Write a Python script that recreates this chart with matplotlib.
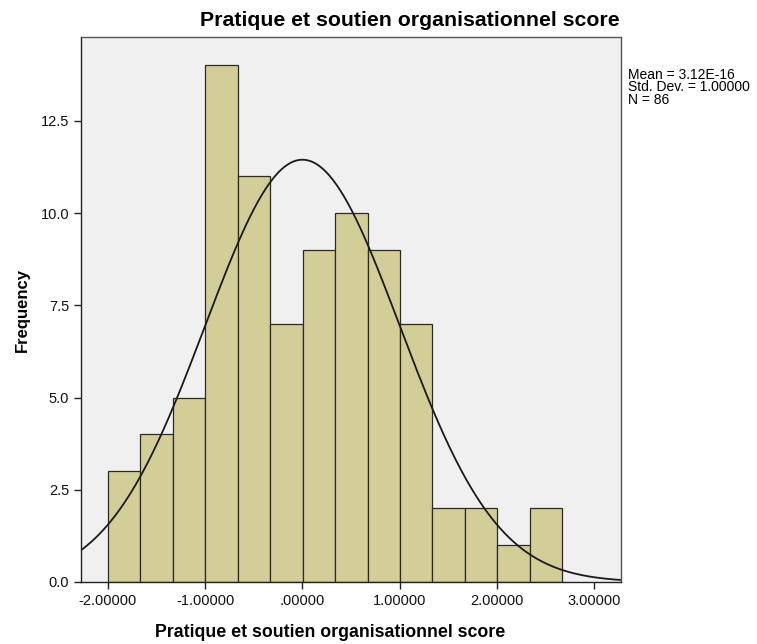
import numpy as np
import matplotlib
matplotlib.use("Agg")
import matplotlib.pyplot as plt

plt.rcParams['font.family'] = ['Liberation Sans', 'DejaVu Sans']

# histogram data
bin_start = -2.0
bin_width = 0.3336
counts = [3, 4, 5, 14, 11, 7, 9, 10, 9, 7, 2, 2, 1, 2]
mean = 0.0
std = 1.0
n = 86
x_ticks = [-2.0, -1.0, 0.0, 1.0, 2.0, 3.0]
x_tick_labels = ["-2.00000", "-1.00000", ".00000", "1.00000", "2.00000", "3.00000"]
y_ticks = [0.0, 2.5, 5.0, 7.5, 10.0, 12.5]
title = "Pratique et soutien organisationnel score"

edges = bin_start + bin_width * np.arange(len(counts) + 1)

fig = plt.figure(figsize=(7.57, 6.44), dpi=100)
ax = fig.add_axes([0.107, 0.0963, 0.713, 0.8462])
ax.set_facecolor("#F0F0F0")

ax.bar(edges[:-1], counts, width=bin_width, align="edge",
       color="#D3CE97", edgecolor="#2a2a2a", linewidth=0.9)

xs = np.linspace(-2.3, 3.3, 400)
pdf = np.exp(-0.5 * ((xs - mean) / std) ** 2) / (std * np.sqrt(2 * np.pi))
ax.plot(xs, n * bin_width * pdf, color="#1a1a1a", linewidth=1.3)

ax.set_xlim(-2.275, 3.27)
ax.set_ylim(0, 14.77)
ax.set_xticks(x_ticks)
ax.set_xticklabels(x_tick_labels)
ax.set_yticks(y_ticks)
ax.set_yticklabels([f"{v:.1f}" for v in y_ticks])
ax.tick_params(labelsize=10.5, length=5, width=1, color="#222222", labelcolor="#111111")

for s in ax.spines.values():
    s.set_color("#555555")
    s.set_linewidth(1)
ax.spines['left'].set_color("#222222")
ax.spines['bottom'].set_color("#222222")

ax.set_ylabel("Frequency", fontsize=12, fontweight="bold", labelpad=8)
fig.text(0.436, 0.004, title, fontsize=12.8, fontweight="bold", ha="center", va="bottom")
fig.text(0.818, 0.953, title, fontsize=15.3, fontweight="bold", ha="right", va="bottom")
fig.text(0.829, 0.895, f"Mean = 3.12E-16\nStd. Dev. = {std:.5f}\nN = {n}",
         fontsize=10, ha="left", va="top", linespacing=0.88)

fig.savefig("out.png", dpi=100)
